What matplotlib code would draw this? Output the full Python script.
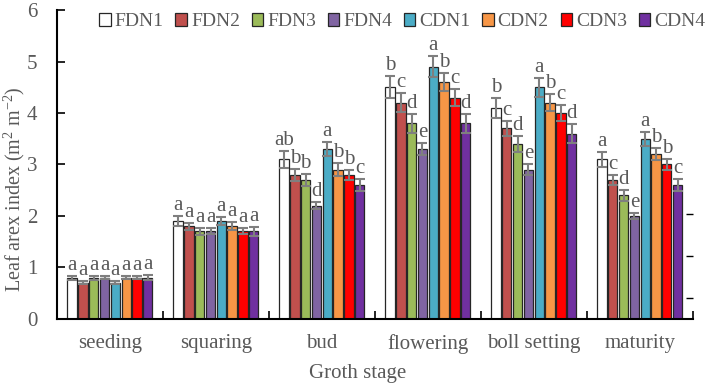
import numpy as np
import matplotlib
matplotlib.use("Agg")
import matplotlib.pyplot as plt

plt.rcParams['font.family'] = ['Liberation Serif', 'DejaVu Serif']
plt.rcParams['mathtext.fontset'] = 'custom'
plt.rcParams['mathtext.rm'] = 'Liberation Serif'

stages = ["seeding", "squaring", "bud", "flowering", "boll setting", "maturity"]
series = ["FDN1", "FDN2", "FDN3", "FDN4", "CDN1", "CDN2", "CDN3", "CDN4"]
colors = ["#FFFFFF", "#C0504D", "#9BBB59", "#8064A2", "#4BACC6", "#F79646", "#FF0000", "#7030A0"]

values = {
    "FDN1": [0.8, 1.9, 3.1, 4.5, 4.1, 3.1],
    "FDN2": [0.7, 1.8, 2.8, 4.2, 3.7, 2.7],
    "FDN3": [0.8, 1.7, 2.7, 3.8, 3.4, 2.4],
    "FDN4": [0.8, 1.7, 2.2, 3.3, 2.9, 2.0],
    "CDN1": [0.7, 1.9, 3.3, 4.9, 4.5, 3.5],
    "CDN2": [0.8, 1.8, 2.9, 4.6, 4.2, 3.2],
    "CDN3": [0.8, 1.7, 2.8, 4.3, 4.0, 3.0],
    "CDN4": [0.8, 1.7, 2.6, 3.8, 3.6, 2.6],
}
errors = {
    "FDN1": [0.04, 0.09, 0.16, 0.21, 0.20, 0.15],
    "FDN2": [0.03, 0.07, 0.12, 0.18, 0.15, 0.10],
    "FDN3": [0.04, 0.07, 0.12, 0.18, 0.15, 0.10],
    "FDN4": [0.03, 0.06, 0.07, 0.12, 0.10, 0.06],
    "CDN1": [0.03, 0.08, 0.14, 0.20, 0.18, 0.14],
    "CDN2": [0.03, 0.08, 0.12, 0.18, 0.16, 0.12],
    "CDN3": [0.03, 0.06, 0.10, 0.16, 0.15, 0.11],
    "CDN4": [0.05, 0.08, 0.12, 0.18, 0.18, 0.12],
}
letters = {
    "FDN1": ["a", "a", "ab", "b", "b", "a"],
    "FDN2": ["a", "a", "b", "c", "c", "c"],
    "FDN3": ["a", "a", "b", "d", "d", "d"],
    "FDN4": ["a", "a", "d", "e", "e", "e"],
    "CDN1": ["a", "a", "a", "a", "a", "a"],
    "CDN2": ["a", "a", "b", "b", "b", "b"],
    "CDN3": ["a", "a", "b", "c", "c", "b"],
    "CDN4": ["a", "a", "c", "d", "d", "c"],
}

gray = "#595959"
fig = plt.figure(figsize=(7.08, 3.87), dpi=100)
ax = fig.add_axes([0.0805, 0.176, 0.898, 0.798])

x = np.arange(len(stages))
pitch = 0.102
width = 0.088
n = len(series)
for i, s in enumerate(series):
    xs = x + (i - (n - 1) / 2) * pitch
    ax.bar(xs, values[s], width=width, color=colors[i], edgecolor="#262626",
           linewidth=0.9, label=s, zorder=2)
    ax.errorbar(xs, values[s], yerr=errors[s], fmt="none", ecolor="#7f7f7f",
                elinewidth=1.5, capsize=3.3, capthick=1.5, zorder=3)
    for xi, v, e, l in zip(xs, values[s], errors[s], letters[s]):
        ax.text(xi, v + e + 0.02, l, ha="center", va="bottom", fontsize=15,
                color=gray, zorder=4)

ax.set_xlim(-0.5, len(stages) - 0.5)
ax.set_ylim(0, 6)
ax.set_yticks(range(0, 7))
ax.set_xticks(x)
ax.set_xticklabels(stages)
ax.set_xticks(np.arange(0.5, len(stages), 1.0), minor=True)
ax.tick_params(axis="x", which="major", length=0, pad=11, labelsize=15, labelcolor=gray)
ax.tick_params(axis="x", which="minor", direction="in", length=6, width=1.2)
ax.tick_params(axis="y", direction="in", length=6, width=1.2, labelsize=15,
               labelcolor=gray, pad=14)
for sp in ["top", "right"]:
    ax.spines[sp].set_visible(False)
for sp in ["left", "bottom"]:
    ax.spines[sp].set_linewidth(1.5)

ax.set_ylabel("Leaf arex index (m$^2$ m$^{-2}$)", fontsize=14.5, color=gray)
ax.yaxis.set_label_coords(-0.047, 0.42)
ax.set_xlabel("Groth stage", fontsize=15, color=gray)
ax.xaxis.set_label_coords(0.473, -0.145)

ax2 = ax.twinx()
ax2.set_ylim(0.494, 7.9)
ax2.set_yticks([1, 2, 3])
ax2.set_yticklabels([])
ax2.tick_params(axis="y", direction="in", length=5, width=1.0)
for sp in ax2.spines.values():
    sp.set_visible(False)

leg = ax.legend(loc="upper center", bbox_to_anchor=(0.543, 1.015), ncol=8, frameon=False,
                fontsize=14, handlelength=0.6, handleheight=0.6, handletextpad=0.2,
                columnspacing=0.6, borderaxespad=0)
for t in leg.get_texts():
    t.set_color(gray)

fig.savefig("out.png", dpi=100)
